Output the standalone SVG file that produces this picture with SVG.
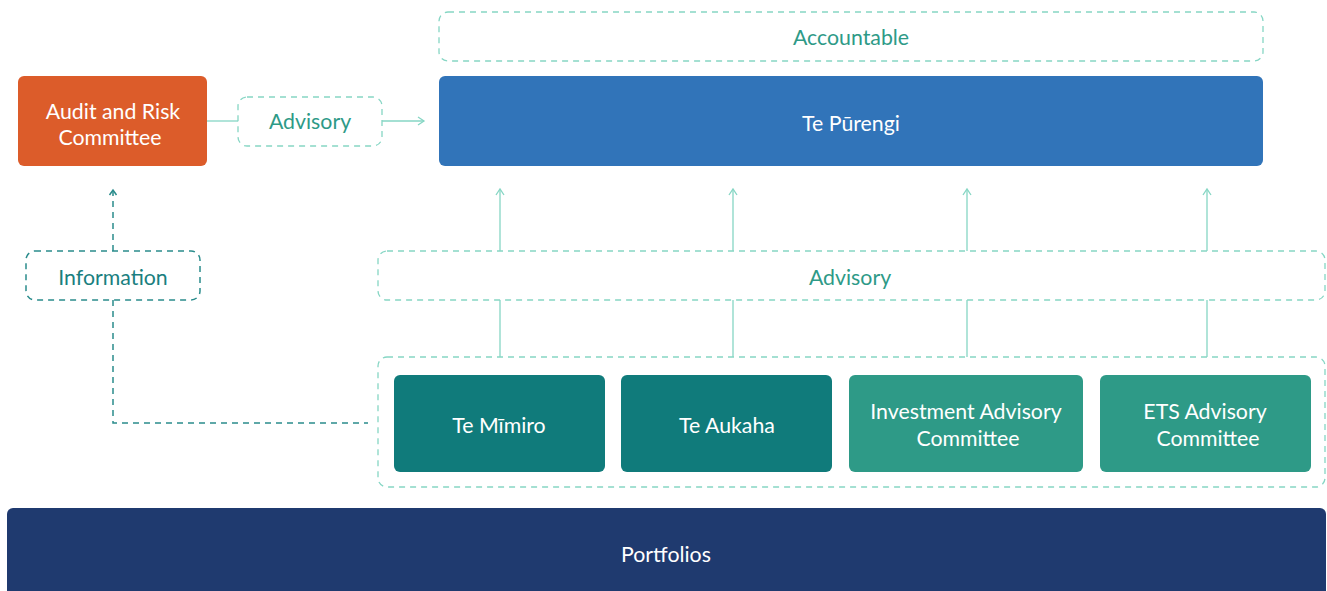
<svg xmlns="http://www.w3.org/2000/svg" width="1327" height="591" viewBox="0 0 1327 591">
  <style>
    text { font-family: Lato, "Open Sans", "Liberation Sans", sans-serif; font-size: 21.3px; text-anchor: middle; }
    .w { fill: #ffffff; }
    .lbl { fill: #2e9a87; }
    .info { fill: #1a7f80; }
    .dash { fill: #ffffff; stroke: #86d6c4; stroke-width: 1.3; stroke-dasharray: 6 5; }
    .dashdark { fill: #ffffff; stroke: #2a8c8c; stroke-width: 1.5; stroke-dasharray: 6 5; }
    .ln { fill: none; stroke: #86d6c4; stroke-width: 1.3; }
    .lnd { fill: none; stroke: #2a8c8c; stroke-width: 1.5; stroke-dasharray: 6 5; }
  </style>
  <defs>
    <marker id="arr" markerWidth="10" markerHeight="10" refX="8" refY="5" orient="auto" markerUnits="userSpaceOnUse">
      <path d="M2,1 L8,5 L2,9" fill="none" stroke="#86d6c4" stroke-width="1.3"/>
    </marker>
    <marker id="arrd" markerWidth="10" markerHeight="10" refX="8" refY="5" orient="auto" markerUnits="userSpaceOnUse">
      <path d="M3,1.5 L8,5 L3,8.5" fill="none" stroke="#2a8c8c" stroke-width="1.5"/>
    </marker>
  </defs>

  <!-- connectors -->
  <g id="connectors">
    <line class="ln" x1="207" y1="121" x2="238" y2="121"/>
    <line class="ln" x1="382" y1="121" x2="424" y2="121" marker-end="url(#arr)"/>
    <line class="ln" x1="500" y1="251" x2="500" y2="189" marker-end="url(#arr)"/>
    <line class="ln" x1="733" y1="251" x2="733" y2="189" marker-end="url(#arr)"/>
    <line class="ln" x1="967" y1="251" x2="967" y2="189" marker-end="url(#arr)"/>
    <line class="ln" x1="1207" y1="251" x2="1207" y2="189" marker-end="url(#arr)"/>
    <line class="ln" x1="500" y1="300" x2="500" y2="375"/>
    <line class="ln" x1="733" y1="300" x2="733" y2="375"/>
    <line class="ln" x1="967" y1="300" x2="967" y2="375"/>
    <line class="ln" x1="1207" y1="300" x2="1207" y2="375"/>
    <line class="lnd" x1="113" y1="251" x2="113" y2="190" marker-end="url(#arrd)"/>
    <polyline class="lnd" points="113,300 113,423 368,423"/>
  </g>

  <g id="accountable">
    <rect class="dash" x="439" y="12" width="824" height="49" rx="9"/>
    <text class="lbl" x="851" y="45">Accountable</text>
  </g>

  <g id="te-purengi">
    <rect x="439" y="76" width="824" height="90" rx="6" fill="#3174b9"/>
    <text class="w" x="851" y="131">Te Pūrengi</text>
  </g>

  <g id="audit-risk">
    <rect x="18" y="76" width="189" height="90" rx="6" fill="#dc5c2a"/>
    <text class="w" x="113" y="119">Audit and Risk</text>
    <text class="w" x="110" y="145">Committee</text>
  </g>

  <g id="advisory-left">
    <rect class="dash" x="238" y="97" width="144" height="49" rx="9"/>
    <text class="lbl" x="310" y="129">Advisory</text>
  </g>

  <g id="information">
    <rect class="dashdark" x="26" y="251" width="174" height="49" rx="9"/>
    <text class="info" x="113" y="285">Information</text>
  </g>

  <g id="advisory-wide">
    <rect class="dash" x="378" y="251" width="947" height="49" rx="9"/>
    <text class="lbl" x="850" y="285">Advisory</text>
  </g>

  <g id="committees">
    <rect class="dash" x="378" y="357" width="947" height="130" rx="9"/>
  </g>

  <g id="te-mimiro">
    <rect x="394" y="375" width="211" height="97" rx="6" fill="#107b7b"/>
    <text class="w" x="499" y="433">Te Mīmiro</text>
  </g>

  <g id="te-aukaha">
    <rect x="621" y="375" width="211" height="97" rx="6" fill="#107b7b"/>
    <text class="w" x="727" y="433">Te Aukaha</text>
  </g>

  <g id="investment">
    <rect x="849" y="375" width="234" height="97" rx="6" fill="#2e9a87"/>
    <text class="w" x="966" y="419">Investment Advisory</text>
    <text class="w" x="968" y="446">Committee</text>
  </g>

  <g id="ets">
    <rect x="1100" y="375" width="211" height="97" rx="6" fill="#2e9a87"/>
    <text class="w" x="1205" y="419">ETS Advisory</text>
    <text class="w" x="1208" y="446">Committee</text>
  </g>

  <g id="portfolios">
    <rect x="7" y="508" width="1319" height="100" rx="6" fill="#1f3a6f"/>
    <text class="w" x="666" y="562">Portfolios</text>
  </g>
</svg>
